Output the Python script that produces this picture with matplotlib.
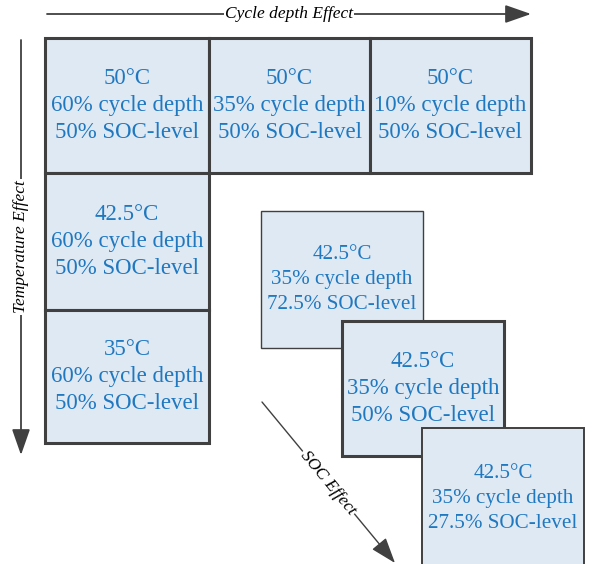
import matplotlib
matplotlib.use("Agg")
import matplotlib.pyplot as plt
from matplotlib.patches import Rectangle, FancyArrowPatch

# ---- content ----
temps = ["50°C", "50°C", "50°C", "42.5°C", "35°C", "42.5°C", "42.5°C", "42.5°C"]
depths = ["60% cycle depth", "35% cycle depth", "10% cycle depth",
          "60% cycle depth", "60% cycle depth",
          "35% cycle depth", "35% cycle depth", "35% cycle depth"]
socs = ["50% SOC-level", "50% SOC-level", "50% SOC-level",
        "50% SOC-level", "50% SOC-level",
        "72.5% SOC-level", "50% SOC-level", "27.5% SOC-level"]
axis_labels = ["Cycle depth Effect", "Temperature Effect", "SOC Effect"]

# ---- layout (pixels, y downward) : x0, y0, x1, y1, border width, font size ----
layout = [
    (45, 38, 209, 173, 2.2, 16.5),
    (209, 38, 370, 173, 2.2, 16.5),
    (370, 38, 531, 173, 2.2, 16.5),
    (45, 173, 209, 310, 2.2, 16.5),
    (45, 310, 209, 443, 2.2, 16.5),
    (261, 211, 423, 348, 1.0, 15.2),
    (342, 321, 504, 456, 2.2, 16.5),
    (422, 428, 584, 568, 1.4, 15.2),
]

W, H = 593, 564
fig = plt.figure(figsize=(W / 100, H / 100), dpi=100)
ax = fig.add_axes([0, 0, 1, 1])
ax.set_xlim(0, W)
ax.set_ylim(H, 0)
ax.axis("off")

serif = ["Liberation Serif", "DejaVu Serif"]
fill = "#dfe9f3"
edge = "#404040"
tcol = "#1f78c0"

for i, (x0, y0, x1, y1, lw, fs) in enumerate(layout):
    ax.add_patch(Rectangle((x0, y0), x1 - x0, y1 - y0, facecolor=fill,
                           edgecolor=edge, linewidth=lw, zorder=2 + i))
    cx, cy = (x0 + x1) / 2, (y0 + y1) / 2
    sp = 27 if fs > 16 else 25
    for k, s in enumerate([temps[i], depths[i], socs[i]]):
        ax.text(cx, cy + (k - 1) * sp, s, ha="center", va="center",
                fontsize=fs, color=tcol, family=serif, zorder=2 + i)

akw = dict(arrowstyle="-|>,head_length=1.0,head_width=0.35", mutation_scale=16,
           color=edge, shrinkA=0, shrinkB=0)

# horizontal arrow
ax.add_patch(FancyArrowPatch((47, 14), (531, 14), lw=1.3, zorder=1, **akw))
ax.text(289, 14, axis_labels[0], ha="center", va="center", fontsize=12.5,
        style="italic", family=serif, zorder=1.5,
        bbox=dict(facecolor="white", edgecolor="none", pad=1))

# vertical arrow
ax.add_patch(FancyArrowPatch((21, 40), (21, 455), lw=1.3, zorder=1, **akw))
ax.text(21, 247, axis_labels[1], ha="center", va="center", fontsize=12.5,
        style="italic", family=serif, rotation=90, zorder=1.5,
        bbox=dict(facecolor="white", edgecolor="none", pad=1))

# diagonal arrow
ax.add_patch(FancyArrowPatch((262, 402), (395, 563), lw=1.0, zorder=1, **akw))
ax.text(328, 483, axis_labels[2], ha="center", va="center", fontsize=12.5,
        style="italic", family=serif, rotation=-50.4, zorder=1.5,
        rotation_mode="anchor",
        bbox=dict(facecolor="white", edgecolor="none", pad=1))

fig.savefig("out.png", dpi=100)
